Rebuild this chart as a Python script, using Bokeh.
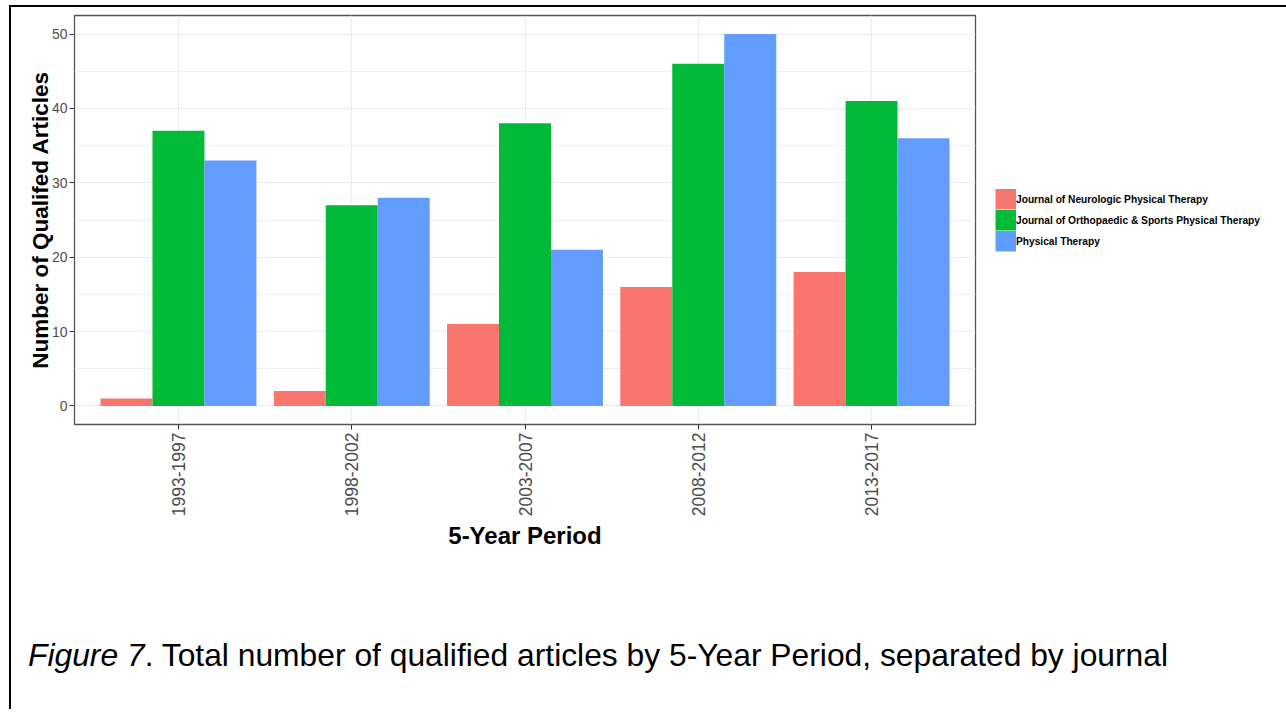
import math
from bokeh.plotting import figure
from bokeh.layouts import column
from bokeh.models import (ColumnDataSource, FactorRange, Range1d, FixedTicker,
                          Legend, LegendItem, Div)
from bokeh.transform import dodge
from bokeh.embed import file_html
from bokeh.resources import INLINE

# ---- data ----
periods = ["1993-1997", "1998-2002", "2003-2007", "2008-2012", "2013-2017"]
neuro = [1, 2, 11, 16, 18]
ortho = [37, 27, 38, 46, 41]
ptj = [33, 28, 21, 50, 36]
journals = ["Journal of Neurologic Physical Therapy",
            "Journal of Orthopaedic & Sports Physical Therapy",
            "Physical Therapy"]
colors = ["#F8766D", "#00BA38", "#619CFF"]
y_ticks = [0, 10, 20, 30, 40, 50]
y_minor = [5, 15, 25, 35, 45]
caption_italic = "Figure 7"
caption_rest = ". Total number of qualified articles by 5-Year Period, separated by journal"

FONT = "Liberation Sans"

src = ColumnDataSource(dict(period=periods, neuro=neuro, ortho=ortho, ptj=ptj))

W1, H1 = 1259, 553
FW, FH = 901, 409
p = figure(frame_width=FW, frame_height=FH, output_backend="svg",
           toolbar_location=None,
           x_range=FactorRange(factors=periods, range_padding=0.1,
                               range_padding_units="absolute"),
           y_range=Range1d(-2.5, 52.5),
           min_border_left=63, min_border_right=W1 - 63 - FW,
           min_border_top=8, min_border_bottom=H1 - 8 - FH)

p.background_fill_color = "white"
p.border_fill_color = "white"
p.outline_line_color = "#555555"
p.outline_line_width = 1.3

for key, off, col in zip(["neuro", "ortho", "ptj"], [-0.3, 0.0, 0.3], colors):
    p.vbar(x=dodge("period", off, range=p.x_range), top=key, bottom=0,
           width=0.3, source=src, fill_color=col, line_color=None)

# legend swatch renderers (NaN heights: nothing drawn, only the legend style)
nan = float("nan")
key_src = ColumnDataSource(dict(x=[periods[0]], top=[nan], bottom=[nan]))
legend_rs = [p.vbar(x="x", top="top", bottom="bottom", width=0.3, source=key_src,
                    fill_color=c, line_color=c, line_width=4.2,
                    line_join="miter") for c in colors]

# axes
p.yaxis.ticker = FixedTicker(ticks=y_ticks, minor_ticks=y_minor)
p.ygrid.ticker = FixedTicker(ticks=y_ticks, minor_ticks=y_minor)
p.ygrid.grid_line_color = "#EBEBEB"
p.ygrid.minor_grid_line_color = "#F0F0F0"
p.xgrid.grid_line_color = "#EBEBEB"

for ax in (p.xaxis[0], p.yaxis[0]):
    ax.axis_line_color = None
    ax.major_tick_in = 0
    ax.major_tick_out = 5
    ax.major_tick_line_color = "#333333"
    ax.minor_tick_line_color = None
    ax.major_label_text_color = "#4D4D4D"
    ax.major_label_text_font = FONT
    ax.axis_label_text_font = FONT
    ax.axis_label_text_font_style = "bold"
    ax.axis_label_text_color = "black"

p.yaxis.axis_label = "Number of Qualifed Articles"
p.yaxis.axis_label_text_font_size = "22.5px"
p.yaxis.major_label_text_font_size = "14px"
p.yaxis.major_label_standoff = 2
p.yaxis.axis_label_standoff = -4

p.xaxis.axis_label = "5-Year Period"
p.xaxis.axis_label_text_font_size = "24px"
p.xaxis.major_label_text_font_size = "17.5px"
p.xaxis.major_label_orientation = math.pi / 2
p.xaxis.major_label_standoff = 3
p.xaxis.axis_label_standoff = 3

# legend in the right panel
items = [LegendItem(label=j, renderers=[r]) for j, r in zip(journals, legend_rs)]
legend = Legend(items=items, location="center_left", orientation="vertical",
                glyph_width=21, glyph_height=21, label_height=21,
                spacing=0, padding=0, margin=20, label_standoff=0,
                border_line_color=None, background_fill_alpha=0,
                label_text_font=FONT, label_text_font_style="bold",
                label_text_font_size="10.2px", label_text_color="black")
p.add_layout(legend, "right")

# caption
H2 = 699 - 7 - H1
cap_html = (
    f'<div style="position:relative;width:{W1}px;height:{H2}px;">'
    f'<span style="position:absolute;left:12px;top:75px;white-space:nowrap;'
    f"font-family:'Liberation Sans';font-size:31.8px;line-height:1;color:black;\">"
    f'<i>{caption_italic}</i>{caption_rest}</span></div>'
)
cap = Div(text=cap_html, width=W1, height=H2)

page = column(p, cap, spacing=0,
              styles={"margin-left": "9px", "margin-top": "5px",
                      "border-left": "2px solid black",
                      "border-top": "2px solid black"})

open("out.html", "w").write(file_html(page, INLINE))
